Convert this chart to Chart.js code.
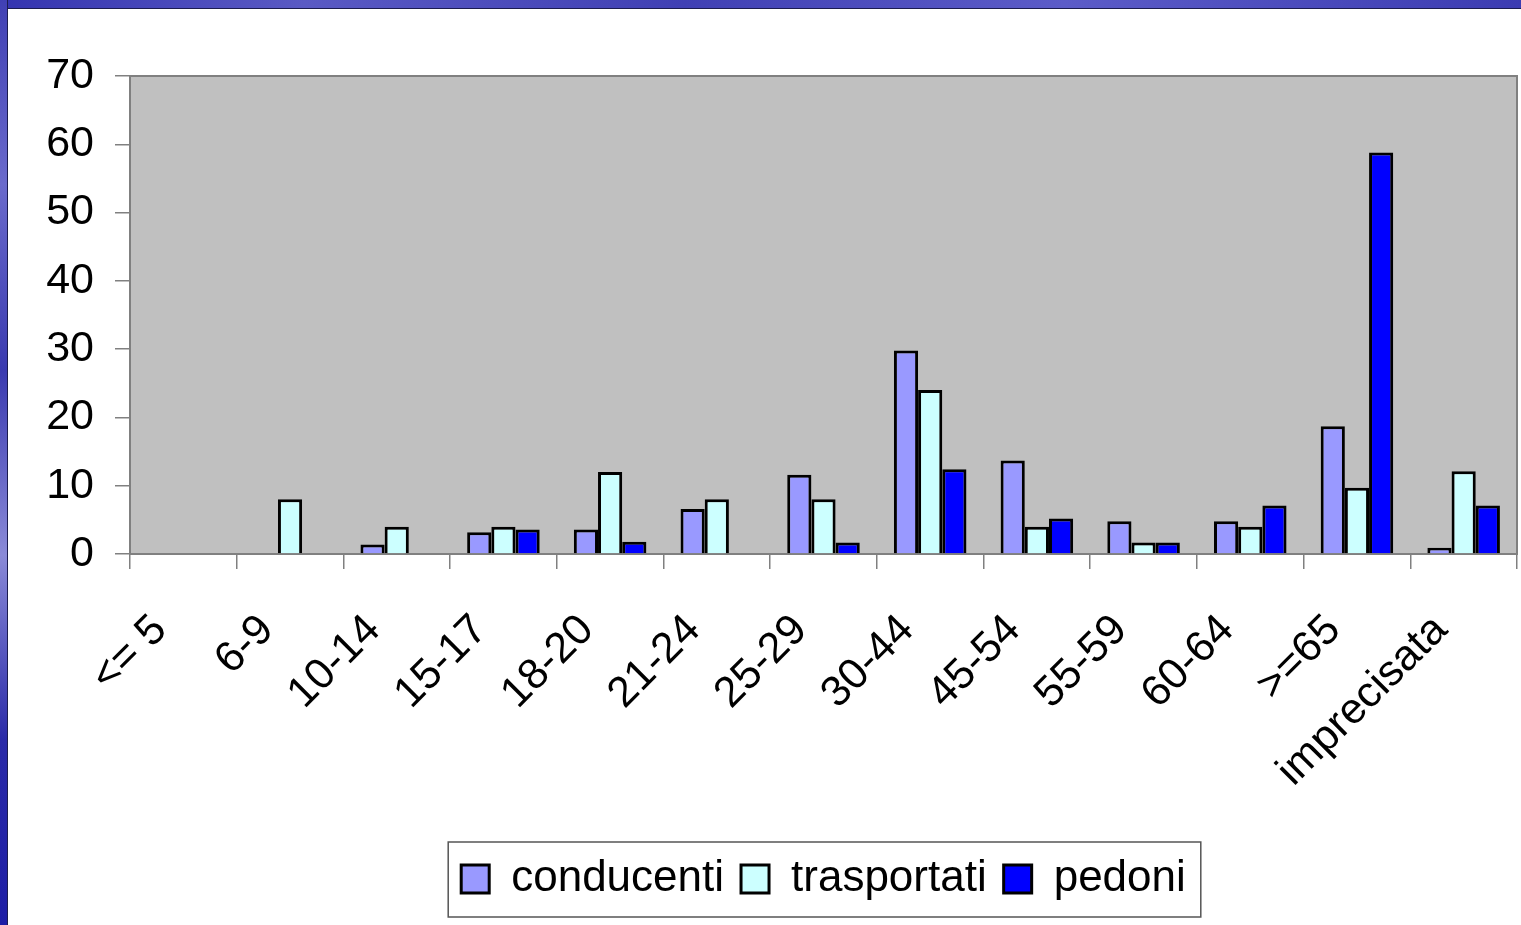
<!DOCTYPE html>
<html>
<head>
<meta charset="utf-8">
<script src="https://cdn.jsdelivr.net/npm/chart.js@4/dist/chart.umd.min.js"></script>
<style>
 body { margin: 0; width: 1521px; height: 925px; overflow: hidden; background: #fff; position: relative; }
 .frame-top { position: absolute; left: 0; top: 0; width: 1521px; height: 8px;
   background: linear-gradient(90deg, #3434b0, #5a5ac4 20%, #4040b4 45%, #5c5cc8 70%, #3c3cb2); border-bottom: 1px solid #1c1c50; }
 .frame-left { position: absolute; left: 0; top: 0; width: 7px; height: 925px;
   background: linear-gradient(180deg, #4040b4, #6a6acc 20%, #3a3ab0 40%, #8a8ad8 60%, #2a2aa8 80%, #1e1ea6); border-right: 1px solid #1c1c50; }
 #wrap { position: absolute; left: 8px; top: 9px; }
</style>
</head>
<body>
<div class="frame-top"></div>
<div class="frame-left"></div>
<div id="wrap"><canvas id="myChart" width="1513" height="916"></canvas></div>
<script>
'use strict';

var categories = ['<= 5', '6-9', '10-14', '15-17', '18-20', '21-24', '25-29', '30-44', '45-54', '55-59', '60-64', '>=65', 'imprecisata'];
var conducenti = [0, 0, 1.4, 3.2, 3.6, 6.6, 11.6, 29.8, 13.7, 4.8, 4.8, 18.7, 0.9];
var trasportati = [0, 8.0, 4.0, 4.0, 12.0, 8.0, 8.0, 24.0, 4.0, 1.7, 4.0, 9.7, 12.1];
var pedoni = [0, 0, 0, 3.6, 1.8, 0, 1.7, 12.4, 5.2, 1.7, 7.1, 58.8, 7.1];
var yTicks = [0, 10, 20, 30, 40, 50, 60, 70];

var font = "'Liberation Sans', Arial, sans-serif";

// grey plot area with its border, like the spreadsheet chart
var plotBg = {
  id: 'plotBg',
  beforeDraw: function (chart) {
    var a = chart.chartArea, c = chart.ctx;
    c.save();
    c.fillStyle = '#c0c0c0';
    c.fillRect(a.left, a.top, a.right - a.left, a.bottom - a.top);
    c.strokeStyle = '#808080';
    c.lineWidth = 2;
    c.strokeRect(a.left, a.top, a.right - a.left, a.bottom - a.top);
    c.restore();
  }
};

// box around the legend
var legendBox = {
  id: 'legendBox',
  afterDraw: function (chart) {
    var boxes = chart.legend.legendHitBoxes;
    if (!boxes || !boxes.length) return;
    var first = boxes[0], last = boxes[boxes.length - 1];
    var left = first.left - 13, right = last.left + last.width + 15;
    var mid = first.top + first.height / 2;
    var c = chart.ctx;
    c.save();
    c.strokeStyle = '#555';
    c.lineWidth = 1.5;
    c.strokeRect(left, mid - 37, right - left, 75);
    c.restore();
  }
};

var ctx = document.getElementById('myChart');
var myChart = new Chart(ctx, {
  type: 'bar',
  data: {
    labels: categories,
    datasets: [
      { label: 'conducenti', data: conducenti, backgroundColor: '#9999ff', borderColor: '#000', borderWidth: 3 },
      { label: 'trasportati', data: trasportati, backgroundColor: '#ccffff', borderColor: '#000', borderWidth: 3 },
      { label: 'pedoni', data: pedoni, backgroundColor: '#0000ff', borderColor: '#000', borderWidth: 3 }
    ]
  },
  options: {
    responsive: false,
    animation: false,
    devicePixelRatio: 1,
    datasets: { bar: { categoryPercentage: 0.68, barPercentage: 1 } },
    layout: { padding: { top: 67, right: 4, bottom: 14, left: 0 } },
    plugins: {
      tooltip: { enabled: false },
      legend: {
        position: 'bottom',
        fullSize: false,
        labels: {
          color: '#000',
          font: { family: font, size: 44 },
          boxWidth: 28,
          boxHeight: 28,
          padding: 17
        }
      }
    },
    scales: {
      x: {
        offset: true,
        grid: { offset: true, drawOnChartArea: false, drawTicks: true, tickLength: 15, color: '#808080', lineWidth: 1.5 },
        border: { display: true, color: '#808080', width: 2 },
        ticks: {
          color: '#000',
          font: { family: font, size: 43 },
          autoSkip: false,
          maxRotation: 45,
          minRotation: 45,
          padding: 36,
          labelOffset: -23
        },
        afterFit: function (scale) {
          scale.height = 286;
          scale.paddingRight = 0;
          scale.paddingLeft = 0;
        }
      },
      y: {
        min: 0,
        max: 70,
        afterBuildTicks: function (scale) {
          scale.ticks = yTicks.map(function (v) { return { value: v }; });
        },
        grid: { drawOnChartArea: false, drawTicks: true, tickLength: 15, color: '#808080', lineWidth: 1.5 },
        border: { display: true, color: '#808080', width: 2 },
        ticks: {
          color: '#000',
          font: { family: font, size: 43 },
          padding: 21
        },
        afterFit: function (scale) { scale.width = 122; }
      }
    }
  },
  plugins: [plotBg, legendBox]
});
</script>
</body>
</html>
